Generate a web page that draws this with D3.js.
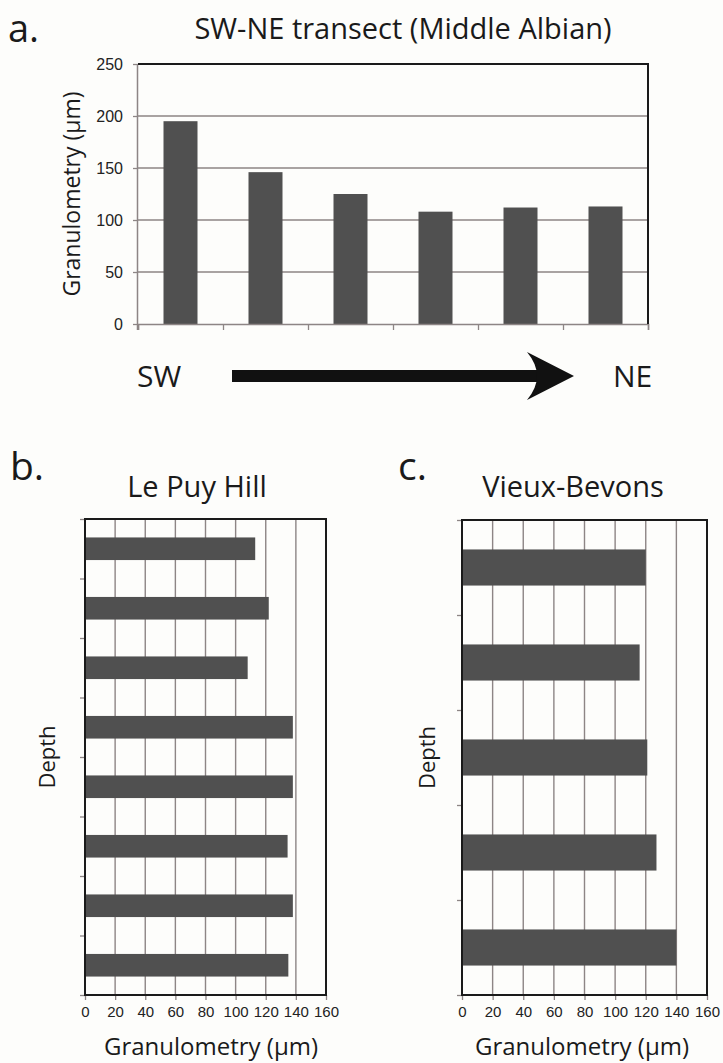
<!DOCTYPE html>
<html>
<head>
<meta charset="utf-8">
<script src="https://cdn.jsdelivr.net/npm/d3@7"></script>
<style>
  body { margin: 0; background: #fdfdfb; }
  svg { display: block; font-family: "Open Sans", "Noto Sans", sans-serif; }
</style>
</head>
<body>
<svg id="chart" width="723" height="1063"></svg>
<script>
// panel a: SW-NE transect
const transectSites = ["s1", "s2", "s3", "s4", "s5", "s6"];
const transectValues = [195, 146, 125, 108, 112, 113];
const transectTicks = [0, 50, 100, 150, 200, 250];

// panel b: Le Puy Hill (top to bottom)
const lePuyLevels = ["p1", "p2", "p3", "p4", "p5", "p6", "p7", "p8"];
const lePuyValues = [113, 122, 108, 138, 138, 134.5, 138, 135];

// panel c: Vieux-Bevons (top to bottom)
const bevonsLevels = ["v1", "v2", "v3", "v4", "v5"];
const bevonsValues = [120, 116, 121, 127, 140];

const granuloTicks = [0, 20, 40, 60, 80, 100, 120, 140, 160];

const barColor = "#505050";
const gridColor = "#8d8585";

const svg = d3.select("#chart");

// ---- panel a ----
const aLeft = 138, aRight = 648, aTop = 64, aBottom = 324;

let xA = d3.scaleBand().domain(transectSites).range([aLeft, aRight]).paddingInner(0.6).paddingOuter(0.3);
let yA = d3.scaleLinear().domain([0, 250]).range([aBottom, aTop]);
let bandEdges = d3.scaleLinear().domain([0, transectSites.length]).range([aLeft, aRight]);

const gA = svg.append("g");

gA.append("g")
  .selectAll("line")
  .data(transectTicks.filter(d => d > 0 && d < 250))
  .enter()
  .append("line")
  .attr("x1", aLeft)
  .attr("x2", aRight)
  .attr("y1", d => yA(d))
  .attr("y2", d => yA(d))
  .style("stroke", gridColor)
  .style("stroke-width", "1.3px");

gA.selectAll("rect")
  .data(transectValues)
  .enter()
  .append("rect")
  .attr("x", (d, i) => xA(transectSites[i]))
  .attr("width", xA.bandwidth())
  .attr("y", d => yA(d))
  .attr("height", d => yA(0) - yA(d))
  .attr("fill", barColor);

let axisLeftA = gA.append("g")
  .attr("transform", "translate(" + aLeft + ",0)")
  .call(d3.axisLeft(yA).tickValues(transectTicks).tickSize(5).tickPadding(10));
axisLeftA.select(".domain").attr("d", "M-0.5," + (aTop) + "V" + (aBottom + 6)).style("stroke", gridColor).style("stroke-width", "1.5px");
axisLeftA.selectAll(".tick line").style("stroke", gridColor).style("stroke-width", "1.3px");
axisLeftA.selectAll("text").style("font-size", "16px").style("fill", "#222");

let axisBottomA = gA.append("g")
  .attr("transform", "translate(0," + aBottom + ")")
  .call(d3.axisBottom(bandEdges).ticks(transectSites.length).tickSize(6).tickFormat(""));
axisBottomA.select(".domain").style("stroke", gridColor).style("stroke-width", "1.5px");
axisBottomA.selectAll(".tick line").style("stroke", gridColor).style("stroke-width", "1.3px");

// dark top and right border
gA.append("path")
  .attr("d", "M" + aLeft + "," + aTop + "H" + aRight + "V" + aBottom)
  .attr("fill", "none")
  .style("stroke", "#1a1a1a")
  .style("stroke-width", "2px");

gA.append("text")
  .attr("x", 403)
  .attr("y", 39)
  .attr("text-anchor", "middle")
  .style("font-size", "29px")
  .style("fill", "#1a1a1a")
  .text("SW-NE transect (Middle Albian)");

gA.append("text")
  .attr("transform", "translate(80," + (aTop + aBottom) / 2 + ") rotate(-90)")
  .attr("text-anchor", "middle")
  .style("font-size", "23px")
  .style("fill", "#1a1a1a")
  .text("Granulometry (µm)");

svg.append("text")
  .attr("x", 8)
  .attr("y", 42)
  .style("font-size", "38px")
  .style("fill", "#1a1a1a")
  .text("a.");

// ---- arrow SW -> NE ----
const arrowY = 376;
svg.append("text").attr("x", 137).attr("y", arrowY + 11)
  .style("font-size", "30px").style("fill", "#1a1a1a").text("SW");
svg.append("text").attr("x", 613).attr("y", arrowY + 11)
  .style("font-size", "30px").style("fill", "#1a1a1a").text("NE");
svg.append("rect")
  .attr("x", 232).attr("y", arrowY - 6)
  .attr("width", 305).attr("height", 12)
  .attr("fill", "#111");
svg.append("path")
  .attr("d", "M574," + arrowY +
    " L527," + (arrowY - 24) +
    " Q547," + arrowY + " 527," + (arrowY + 24) + " Z")
  .attr("fill", "#111");

// ---- panels b and c ----
function depthChart(opts) {
  const g = svg.append("g");
  let x = d3.scaleLinear().domain([0, 160]).range([opts.left, opts.right]);
  let y = d3.scaleBand().domain(opts.levels).range([opts.top, opts.bottom]).paddingInner(0.62).paddingOuter(0.31);
  let edges = d3.scaleLinear().domain([0, opts.levels.length]).range([opts.top, opts.bottom]);

  g.selectAll(".grid")
    .data(granuloTicks.filter(d => d > 0 && d < 160))
    .enter()
    .append("line")
    .attr("class", "grid")
    .attr("x1", d => x(d))
    .attr("x2", d => x(d))
    .attr("y1", opts.top)
    .attr("y2", opts.bottom)
    .style("stroke", gridColor)
    .style("stroke-width", "1.4px");

  g.selectAll("rect")
    .data(opts.values)
    .enter()
    .append("rect")
    .attr("x", x(0))
    .attr("y", (d, i) => y(opts.levels[i]))
    .attr("width", d => x(d) - x(0))
    .attr("height", y.bandwidth())
    .attr("fill", barColor);

  let ax = g.append("g")
    .attr("transform", "translate(0," + opts.bottom + ")")
    .call(d3.axisBottom(x).tickValues(granuloTicks).tickSize(5).tickPadding(6));
  ax.select(".domain").remove();
  ax.selectAll(".tick line").style("stroke", gridColor).style("stroke-width", "1.3px");
  ax.selectAll("text").style("font-size", "15px").style("fill", "#222");

  let ay = g.append("g")
    .attr("transform", "translate(" + opts.left + ",0)")
    .call(d3.axisLeft(edges).ticks(opts.levels.length).tickSize(5).tickFormat(""));
  ay.select(".domain").remove();
  ay.selectAll(".tick line").style("stroke", gridColor).style("stroke-width", "1.3px");

  g.append("rect")
    .attr("x", opts.left)
    .attr("y", opts.top)
    .attr("width", opts.right - opts.left)
    .attr("height", opts.bottom - opts.top)
    .attr("fill", "none")
    .style("stroke", "#1a1a1a")
    .style("stroke-width", "2px");

  g.append("text")
    .attr("x", opts.titleX)
    .attr("y", 497)
    .attr("text-anchor", "middle")
    .style("font-size", "29px")
    .style("fill", "#1a1a1a")
    .text(opts.title);

  g.append("text")
    .attr("x", opts.letterX)
    .attr("y", 480)
    .style("font-size", "39px")
    .style("fill", "#1a1a1a")
    .text(opts.letter);

  g.append("text")
    .attr("transform", "translate(" + opts.depthX + "," + (opts.top + opts.bottom) / 2 + ") rotate(-90)")
    .attr("text-anchor", "middle")
    .style("font-size", "22px")
    .style("fill", "#1a1a1a")
    .text("Depth");

  g.append("text")
    .attr("x", opts.labelX)
    .attr("y", 1055)
    .attr("text-anchor", "middle")
    .style("font-size", "24px")
    .style("fill", "#1a1a1a")
    .text("Granulometry (µm)");
}

depthChart({
  levels: lePuyLevels, values: lePuyValues,
  left: 85, right: 326, top: 519, bottom: 995,
  title: "Le Puy Hill", titleX: 197, letter: "b.", letterX: 10,
  depthX: 55, labelX: 211
});

depthChart({
  levels: bevonsLevels, values: bevonsValues,
  left: 462, right: 707, top: 520, bottom: 995,
  title: "Vieux-Bevons", titleX: 573, letter: "c.", letterX: 398,
  depthX: 435, labelX: 582
});
</script>
</body>
</html>
